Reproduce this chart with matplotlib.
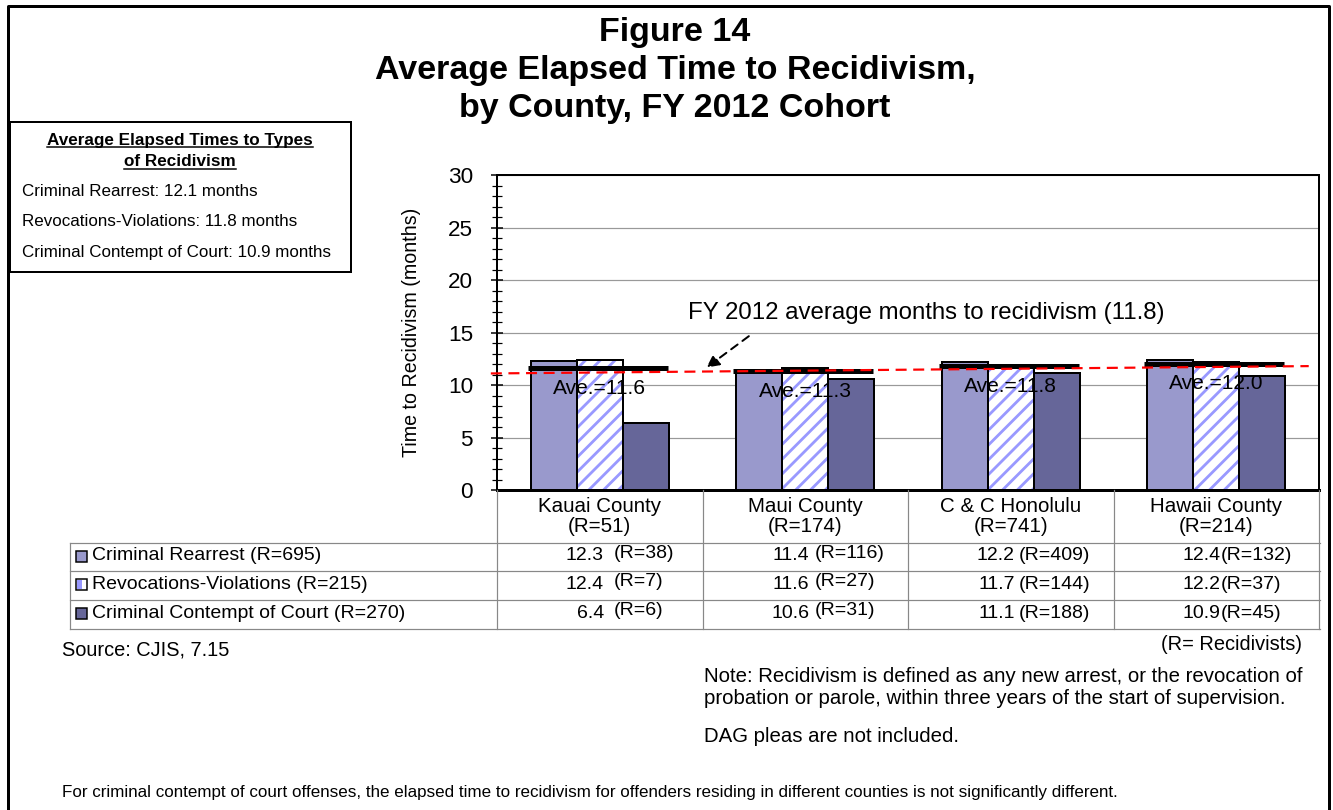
import matplotlib.pyplot as plt
import matplotlib.transforms as mtransforms
from matplotlib.lines import Line2D
from matplotlib.patches import Rectangle
import numpy as np

# county data, FY 2012 cohort
counties = ['Kauai County', 'Maui County', 'C & C Honolulu', 'Hawaii County']
county_r = [51, 174, 741, 214]
series = ['Criminal Rearrest', 'Revocations-Violations', 'Criminal Contempt of Court']
series_r = [695, 215, 270]
rearrest = [12.3, 11.4, 12.2, 12.4]
rearrest_r = [38, 116, 409, 132]
revocation = [12.4, 11.6, 11.7, 12.2]
revocation_r = [7, 27, 144, 37]
contempt = [6.4, 10.6, 11.1, 10.9]
contempt_r = [6, 31, 188, 45]
county_ave = [11.6, 11.3, 11.8, 12.0]
fy_avg_start = 11.1
fy_avg = 11.8
type_avg = [12.1, 11.8, 10.9]

W, H = 1333, 810
DPI = 133.3
P = 72 / DPI  # pixels -> points

plt.rcParams['font.family'] = ['Liberation Sans', 'DejaVu Sans']
plt.rcParams['hatch.linewidth'] = 2.8 * P

colors = ['#9999cc', 'white', '#666699']
hatch_color = '#9999ff'


def fx(x):
    return x / W


def fy(y):
    return 1 - y / H


fig = plt.figure(figsize=(W / DPI, H / DPI), dpi=DPI)

# outer frame (left, top, right)
fig.add_artist(Line2D([fx(8), fx(8), fx(1329), fx(1329)], [fy(810), fy(6), fy(6), fy(810)],
                      color='black', lw=3 * P, transform=fig.transFigure))

# title
for txt, y in [('Figure 14', 32), ('Average Elapsed Time to Recidivism,', 70),
               ('by County, FY 2012 Cohort', 108)]:
    fig.text(fx(675), fy(y), txt, ha='center', va='center', fontsize=34 * P, fontweight='bold')

# main axes
ax = fig.add_axes([fx(497), fy(490), (1319 - 497) / W, (490 - 175) / H])
x = np.arange(len(counties))
bw = 0.224

ax.bar(x - bw, rearrest, bw, color=colors[0], edgecolor='black', lw=2 * P, zorder=3)
ax.bar(x, revocation, bw, color='white', edgecolor=hatch_color, hatch='///', lw=0, zorder=3)
ax.bar(x, revocation, bw, color='none', edgecolor='black', lw=2 * P, zorder=3)
ax.bar(x + bw, contempt, bw, color=colors[2], edgecolor='black', lw=2 * P, zorder=3)

# county averages
for i, v in enumerate(county_ave):
    ax.plot([i - 0.35, i + 0.33], [v, v], color='black', lw=5 * P, zorder=4, solid_capstyle='butt')
    ax.text(i, v - 1.9, 'Ave.=%.1f' % v, ha='center', va='center', fontsize=21 * P, zorder=6)

# overall average line
ax.plot([-0.53, 3.45], [fy_avg_start, fy_avg], color='#ff0000', lw=2.2 * P,
        dashes=(5, 3), zorder=5, clip_on=False)
ax.annotate('FY 2012 average months to recidivism (%.1f)' % fy_avg,
            xy=(0.505, 11.45), xytext=(1.59, 16.86), ha='center', va='center',
            fontsize=24 * P, zorder=6)
ax.annotate('', xy=(0.505, 11.45), xytext=(0.74, 14.86),
            arrowprops=dict(arrowstyle='-|>', color='black', lw=2 * P, linestyle=(0, (4, 3)),
                            mutation_scale=14), zorder=6)

ax.set_xlim(-0.5, 3.5)
ax.set_ylim(0, 30)
ax.set_yticks(range(0, 31, 5))
ax.set_yticks(range(0, 31, 1), minor=True)
ax.yaxis.grid(True, which='major', color='#999999', lw=1.2 * P, zorder=0)
ax.tick_params(axis='y', which='major', direction='inout', length=12 * P, width=1.5 * P,
               labelsize=22.5 * P, pad=18 * P)
ax.tick_params(axis='y', which='minor', direction='inout', length=10 * P, width=1.2 * P)
ax.set_xticks(x)
ax.set_xticklabels(['%s\n(R=%d)' % (c, r) for c, r in zip(counties, county_r)],
                   fontsize=20.5 * P, linespacing=1.1)
ax.tick_params(axis='x', length=0, pad=7 * P)
for s in ['left', 'top', 'right']:
    ax.spines[s].set_linewidth(2 * P)
ax.spines['bottom'].set_linewidth(3 * P)
ax.set_ylabel('Time to Recidivism (months)', fontsize=19.6 * P, labelpad=27 * P)

# data table under the chart
tr = mtransforms.blended_transform_factory(ax.transData, fig.transFigure)
grid_c = '#888888'
row_lines = [543, 571, 600, 629]
for y in row_lines:
    fig.add_artist(Line2D([fx(70), fx(1320)], [fy(y), fy(y)], color=grid_c, lw=1.2 * P,
                          transform=fig.transFigure))
fig.add_artist(Line2D([fx(70), fx(70)], [fy(543), fy(629)], color=grid_c, lw=1.2 * P,
                      transform=fig.transFigure))
for b in np.arange(-0.5, len(counties) + 0.5, 1):
    fig.add_artist(Line2D([b, b], [fy(490), fy(629)], color=grid_c, lw=1.2 * P, transform=tr))

rows = [(rearrest, rearrest_r), (revocation, revocation_r), (contempt, contempt_r)]
gaps = [10, 6, 4, 0]
raise_r = [3, 3, 0, 0]
px_per_unit = 822 / 4
for k, (vals, rs) in enumerate(rows):
    yc = (row_lines[k] + row_lines[k + 1]) / 2 - 1
    fig.add_artist(Rectangle((fx(76), fy(yc + 5.5)), 11 / W, 11 / H, facecolor=colors[k],
                             edgecolor='black', lw=1.5 * P, transform=fig.transFigure))
    if k == 1:
        fig.add_artist(Rectangle((fx(77), fy(yc + 4.5)), 5 / W, 9 / H, facecolor=hatch_color,
                                 edgecolor='none', transform=fig.transFigure))
    fig.text(fx(92), fy(yc), '%s (R=%d)' % (series[k], series_r[k]), ha='left', va='center',
             fontsize=19.5 * P)
    for i, (v, r) in enumerate(zip(vals, rs)):
        vx = i + 4 / px_per_unit
        fig.text(vx, fy(yc), '%.1f' % v, ha='right', va='center', fontsize=19.5 * P, transform=tr)
        fig.text(vx + gaps[i] / px_per_unit, fy(yc - raise_r[i]), '(R=%d)' % r, ha='left',
                 va='center', fontsize=19.5 * P, transform=tr)

# summary box
fig.add_artist(Rectangle((fx(10), fy(272)), (351 - 10) / W, (272 - 122) / H, facecolor='white',
                         edgecolor='black', lw=2 * P, transform=fig.transFigure))
box_titles = []
for txt, y in [('Average Elapsed Times to Types', 140), ('of Recidivism', 162)]:
    box_titles.append(fig.text(fx(180), fy(y), txt, ha='center', va='center',
                               fontsize=17.2 * P, fontweight='bold'))
for k, y in enumerate([192, 222, 253]):
    fig.text(fx(22), fy(y), '%s: %.1f months' % (series[k], type_avg[k]), ha='left',
             va='center', fontsize=17 * P)

# notes
fig.text(fx(62), fy(650), 'Source: CJIS, 7.15', ha='left', va='center', fontsize=20 * P)
fig.text(fx(1302), fy(645), '(R= Recidivists)', ha='right', va='center', fontsize=20 * P)
fig.text(fx(704), fy(677), 'Note: Recidivism is defined as any new arrest, or the revocation of',
         ha='left', va='center', fontsize=20.4 * P)
fig.text(fx(704), fy(698), 'probation or parole, within three years of the start of supervision.',
         ha='left', va='center', fontsize=20.4 * P)
fig.text(fx(704), fy(737), 'DAG pleas are not included.', ha='left', va='center', fontsize=20.4 * P)
fig.text(fx(62), fy(793), 'For criminal contempt of court offenses, the elapsed time to recidivism '
         'for offenders residing in different counties is not significantly different.',
         ha='left', va='center', fontsize=17 * P)

# underline the box heading
fig.canvas.draw()
inv = fig.transFigure.inverted()
for t in box_titles:
    bb = t.get_window_extent()
    (x0, y0), (x1, _) = inv.transform([(bb.x0, bb.y0), (bb.x1, bb.y1)])
    fig.add_artist(Line2D([x0, x1], [y0 + 1 / H, y0 + 1 / H], color='black', lw=1.5 * P,
                          transform=fig.transFigure))

fig.savefig('out.png', dpi=DPI)
